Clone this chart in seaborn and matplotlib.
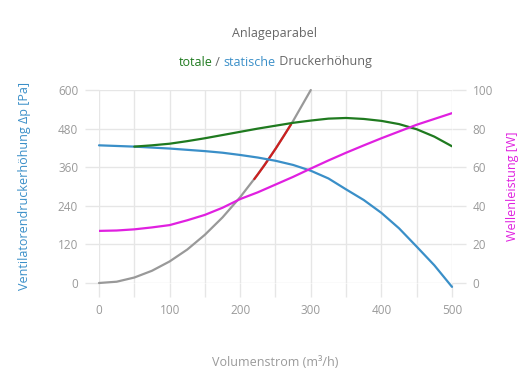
import matplotlib
matplotlib.use("Agg")
import matplotlib.pyplot as plt
import seaborn as sns
import pandas as pd
import numpy as np

# Volumenstrom (m3/h), Schritte von 25
flow = [0, 25, 50, 75, 100, 125, 150, 175, 200, 225, 250, 275, 300,
        325, 350, 375, 400, 425, 450, 475, 500]
# statische Druckerhoehung [Pa]
static_p = [428, 426, 424, 421, 418, 414, 410, 405, 398, 390, 380, 367, 349,
            325, 291, 258, 218, 170, 113, 55, -12]
# totale Druckerhoehung [Pa] (ab 50 m3/h)
total_flow = flow[2:]
total_p = [424, 428, 433, 441, 450, 460, 470, 480, 489, 498, 505,
           511, 513, 510, 504, 494, 478, 455, 425]
# Wellenleistung [W]
power = [27, 27.2, 27.8, 28.8, 30, 32.5, 35.3, 39, 43.5, 47, 51, 55, 59.3,
         63.5, 67.5, 71.3, 75, 78.5, 82, 85, 88]
# Anlageparabel [Pa]
sys_flow = flow[:13]
sys_p = [0, 4, 17, 38, 67, 104, 150, 204, 267, 338, 417, 504, 600]
# Arbeitsbereich auf der Parabel
work_flow = [220, 235, 250, 262, 272]
work_p = [323, 368, 417, 458, 493]

sns.set_theme(style="whitegrid")
plt.rcParams['font.family'] = ['Open Sans', 'DejaVu Sans']

grey = "#9a9a9a"
grid_c = "#e6e6e6"
c_blue = "#3a8fc8"
c_green = "#1f7a1f"
c_mag = "#e020e0"
c_red = "#cc1f1f"

fig = plt.figure(figsize=(5.3, 3.9), dpi=100)
ax = fig.add_axes([99/530, 1-283/390, 353/530, 193/390])
ax2 = ax.twinx()

sns.lineplot(x=sys_flow, y=sys_p, ax=ax, color="#999999", lw=1.6, clip_on=False)
sns.lineplot(x=work_flow, y=work_p, ax=ax, color=c_red, lw=1.6)
sns.lineplot(x=flow, y=static_p, ax=ax, color=c_blue, lw=1.6, clip_on=False)
sns.lineplot(x=total_flow, y=total_p, ax=ax, color=c_green, lw=1.6)
sns.lineplot(x=flow, y=power, ax=ax2, color=c_mag, lw=1.6)

ax.set_xlim(0, 500)
ax.set_ylim(0, 600)
ax2.set_ylim(0, 100)
ax.set_xticks(range(0, 501, 100))
ax.set_xticks(range(0, 501, 50), minor=True)
ax.set_yticks(range(0, 601, 120))
ax2.set_yticks(range(0, 101, 20))
ax.grid(True, which="both", color=grid_c, lw=1)
ax2.grid(False)
for a in (ax, ax2):
    for s in a.spines.values():
        s.set_visible(False)
    a.tick_params(which="both", length=10, width=1, color=grid_c,
                  labelcolor=grey, labelsize=8.5, pad=5)
ax.tick_params(axis="x", which="both", bottom=True)
ax.tick_params(axis="y", left=True)
ax2.tick_params(axis="y", right=True)

ax.set_xlabel("Volumenstrom (m³/h)", color=grey, fontsize=9, labelpad=28)
ax.set_ylabel("Ventilatorendruckerhöhung Δp [Pa]", color=c_blue, fontsize=9, labelpad=19)
ax2.set_ylabel("Wellenleistung [W]", color=c_mag, fontsize=9, labelpad=9)

fig.text(275/530, 1-33/390, "Anlageparabel", color="#666666", fontsize=9,
         ha="center", va="center")

# mehrfarbiger Untertitel
parts = [("totale", c_green), (" / ", "#666666"), ("statische", c_blue),
         (" Druckerhöhung", "#666666")]
fig.canvas.draw()
r = fig.canvas.get_renderer()
texts = []
for s, c in parts:
    texts.append(fig.text(0, 1-62/390, s, color=c, fontsize=9, va="center"))
widths = [t.get_window_extent(r).width for t in texts]
x0 = 275 - sum(widths) / 2
for t, w in zip(texts, widths):
    t.set_x(x0 / 530)
    x0 += w

fig.savefig("out.png", dpi=100)
